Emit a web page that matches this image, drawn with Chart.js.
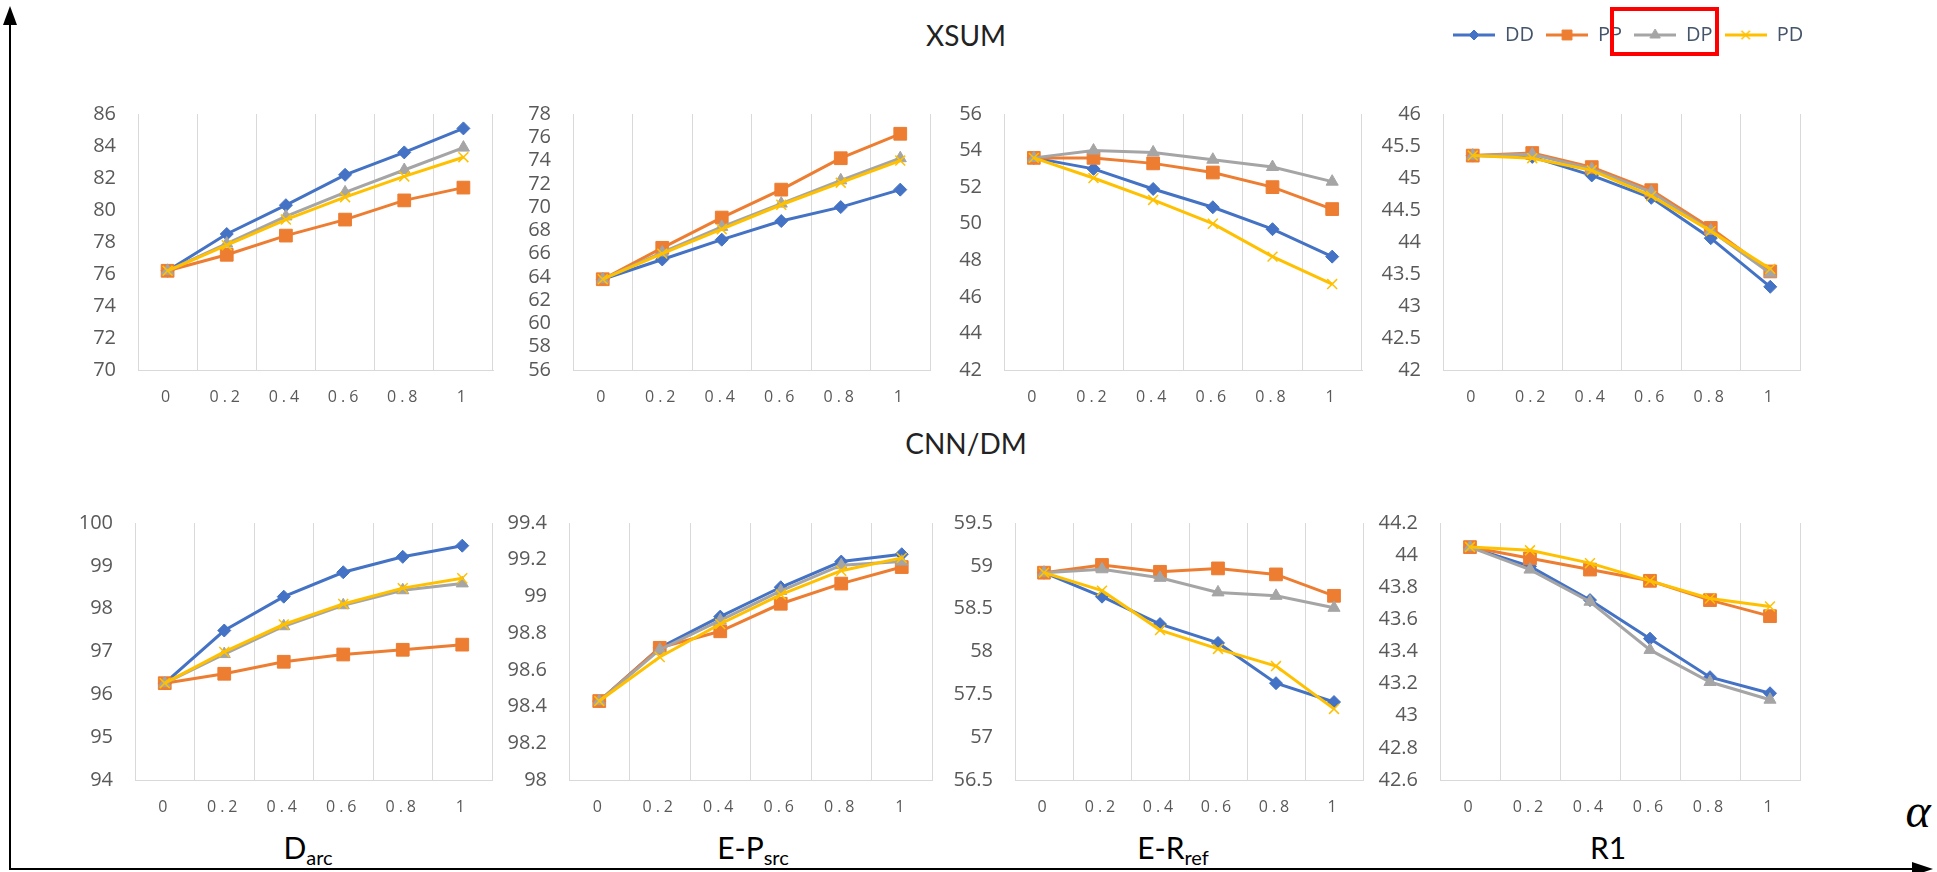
<!DOCTYPE html>
<html lang="en">
<head>
<meta charset="UTF-8">
<title>XSUM / CNN/DM - alpha sweep</title>
<script src="https://cdn.jsdelivr.net/npm/chart.js"></script>
<style>
  body { margin: 0; background: #fff; width: 1937px; height: 872px; position: relative; overflow: hidden; }
  canvas { position: absolute; }
  .title { position: absolute; font-family: Lato, 'Open Sans', sans-serif; font-size: 28px; color: #222; transform: translate(-50%, -50%); white-space: nowrap; }
  .metric { position: absolute; font-family: Lato, 'Open Sans', sans-serif; font-size: 30px; color: #000; transform: translate(-50%, -50%); white-space: nowrap; }
  .metric sub { font-size: 20px; vertical-align: -6px; line-height: 0; }
  .alpha { position: absolute; font-family: 'Liberation Serif', serif; font-style: italic; font-size: 48px; color: #000; transform: translate(-50%, -50%); }
  .mark { position: absolute; left: 1610px; top: 7px; width: 109px; height: 49px; border: 4px solid #ff0000; box-sizing: border-box; }
  svg { position: absolute; left: 0; top: 0; }
</style>
</head>
<body>

<div class="title" style="left:966px; top:35px;">XSUM</div>
<div class="title" style="left:966px; top:443px;">CNN/DM</div>
<div class="metric" style="left:308px; top:847px;">D<sub>arc</sub></div>
<div class="metric" style="left:753px; top:847px;">E-P<sub>src</sub></div>
<div class="metric" style="left:1173px; top:847px;">E-R<sub>ref</sub></div>
<div class="metric" style="left:1608px; top:847px;">R1</div>
<div class="alpha" style="left:1918px; top:810px;">α</div>

<svg width="1937" height="872">
  <line x1="10" y1="22" x2="10" y2="870" stroke="#000" stroke-width="2"/>
  <polygon points="10,6 3,25 17,25" fill="#000"/>
  <line x1="9" y1="869" x2="1918" y2="869" stroke="#000" stroke-width="2"/>
  <polygon points="1933,869 1912,862 1912,876" fill="#000"/>
</svg>

<script>
// alpha values on the x axis
const alphas = ['0', '0.2', '0.4', '0.6', '0.8', '1'];
const seriesNames = ['DD', 'PP', 'DP', 'PD'];

// XSUM
const xsumDarcDD = [76.2, 78.5, 80.3, 82.2, 83.6, 85.1];
const xsumDarcPP = [76.2, 77.2, 78.4, 79.4, 80.6, 81.4];
const xsumDarcDP = [76.2, 77.9, 79.6, 81.1, 82.5, 83.9];
const xsumDarcPD = [76.2, 77.8, 79.4, 80.8, 82.1, 83.3];

const xsumEpDD = [63.8, 65.5, 67.2, 68.8, 70.0, 71.5];
const xsumEpPP = [63.8, 66.5, 69.1, 71.5, 74.2, 76.3];
const xsumEpDP = [63.8, 66.1, 68.3, 70.3, 72.3, 74.2];
const xsumEpPD = [63.8, 66.0, 68.1, 70.2, 72.1, 74.0];

const xsumErDD = [53.6, 53.0, 51.9, 50.9, 49.7, 48.2];
const xsumErPP = [53.6, 53.6, 53.3, 52.8, 52.0, 50.8];
const xsumErDP = [53.6, 54.0, 53.9, 53.5, 53.1, 52.3];
const xsumErPD = [53.6, 52.5, 51.3, 50.0, 48.2, 46.7];

const xsumR1DD = [45.35, 45.33, 45.04, 44.69, 44.06, 43.30];
const xsumR1PP = [45.35, 45.39, 45.17, 44.81, 44.22, 43.54];
const xsumR1DP = [45.35, 45.37, 45.14, 44.78, 44.18, 43.51];
const xsumR1PD = [45.35, 45.31, 45.12, 44.72, 44.17, 43.58];

// CNN/DM
const cnnDarcDD = [96.26, 97.49, 98.28, 98.85, 99.21, 99.47];
const cnnDarcPP = [96.26, 96.48, 96.76, 96.93, 97.04, 97.16];
const cnnDarcDP = [96.26, 96.94, 97.59, 98.08, 98.43, 98.59];
const cnnDarcPD = [96.26, 96.99, 97.63, 98.11, 98.48, 98.71];

const cnnEpDD = [98.43, 98.72, 98.89, 99.05, 99.19, 99.23];
const cnnEpPP = [98.43, 98.72, 98.81, 98.96, 99.07, 99.16];
const cnnEpDP = [98.43, 98.71, 98.87, 99.03, 99.17, 99.19];
const cnnEpPD = [98.43, 98.67, 98.85, 99.01, 99.14, 99.21];

const cnnErDD = [58.92, 58.64, 58.32, 58.10, 57.63, 57.41];
const cnnErPP = [58.92, 59.01, 58.93, 58.97, 58.90, 58.65];
const cnnErDP = [58.92, 58.96, 58.86, 58.69, 58.65, 58.51];
const cnnErPD = [58.92, 58.71, 58.25, 58.03, 57.83, 57.33];

const cnnR1DD = [44.05, 43.93, 43.72, 43.48, 43.24, 43.14];
const cnnR1PP = [44.05, 43.98, 43.91, 43.84, 43.72, 43.62];
const cnnR1DP = [44.05, 43.91, 43.71, 43.41, 43.21, 43.10];
const cnnR1PD = [44.05, 44.03, 43.95, 43.84, 43.73, 43.68];

// y axis ranges, panels in reading order
const yMins  = [70, 56, 42, 42,   94, 98,  56.5, 42.6];
const yMaxs  = [86, 78, 56, 46,  100, 99.4, 59.5, 44.2];
const ySteps = [2, 2, 2, 0.5,      1, 0.2,  0.5,  0.2];

const panelData = [
  [xsumDarcDD, xsumDarcPP, xsumDarcDP, xsumDarcPD],
  [xsumEpDD, xsumEpPP, xsumEpDP, xsumEpPD],
  [xsumErDD, xsumErPP, xsumErDP, xsumErPD],
  [xsumR1DD, xsumR1PP, xsumR1DP, xsumR1PD],
  [cnnDarcDD, cnnDarcPP, cnnDarcDP, cnnDarcPD],
  [cnnEpDD, cnnEpPP, cnnEpDP, cnnEpPD],
  [cnnErDD, cnnErPP, cnnErDP, cnnErPD],
  [cnnR1DD, cnnR1PP, cnnR1DP, cnnR1PD]
];

// plot areas [left, top, right, bottom]
const boxes = [
  [138, 97, 493, 370], [573, 97, 930, 370], [1004, 97, 1362, 370], [1443, 97, 1800, 370],
  [135, 506, 492, 780], [569, 506, 932, 780], [1015, 506, 1363, 780], [1440, 506, 1800, 780]
];

const colors = ['#4472C4', '#ED7D31', '#A5A5A5', '#FFC000'];
const styles = ['rectRot', 'rect', 'triangle', 'crossRot'];
const radii = [6.5, 9, 7, 7];
const FONT = "'Open Sans', sans-serif";
const Y_W = 90, PAD_T = 17, PAD_R = 12, X_H = 50;

// spaced-out x labels like the original spreadsheet chart
const spacedLabels = {
  id: 'spacedLabels',
  beforeDraw(chart) {
    const sx = chart.scales.x;
    if (!sx || sx._spaced) return;
    const orig = sx.drawLabels;
    sx.drawLabels = function (area) {
      this.ctx.save();
      this.ctx.letterSpacing = '4px';
      orig.call(this, area);
      this.ctx.restore();
    };
    sx._spaced = true;
  }
};

function makePanel(i) {
  const [l, t, r, b] = boxes[i];
  const cv = document.createElement('canvas');
  cv.width = Y_W + (r - l) + PAD_R;
  cv.height = PAD_T + (b - t) + X_H;
  cv.style.left = (l - Y_W) + 'px';
  cv.style.top = (t - PAD_T) + 'px';
  document.body.appendChild(cv);

  const datasets = panelData[i].map((vals, k) => ({
    label: seriesNames[k],
    data: vals,
    borderColor: colors[k],
    backgroundColor: colors[k],
    pointBackgroundColor: colors[k],
    pointBorderColor: colors[k],
    borderWidth: 3,
    pointStyle: styles[k],
    pointRadius: radii[k],
    pointBorderWidth: k === 3 ? 1.5 : 1,
    tension: 0,
    order: 3 - k
  }));

  new Chart(cv, {
    type: 'line',
    data: { labels: alphas, datasets },
    options: {
      responsive: false,
      animation: false,
      layout: { padding: { top: PAD_T, right: PAD_R, left: 0, bottom: 0 } },
      plugins: { legend: { display: false }, tooltip: { enabled: false } },
      scales: {
        x: {
          offset: true,
          grid: { offset: true, color: '#D9D9D9', lineWidth: 1, drawTicks: false },
          border: { color: '#D9D9D9', width: 1 },
          ticks: { color: '#595959', font: { family: FONT, size: 16 }, padding: 18, maxRotation: 0, autoSkip: false },
          afterFit: s => { s.height = X_H; }
        },
        y: {
          min: yMins[i],
          max: yMaxs[i],
          ticks: {
            stepSize: ySteps[i],
            autoSkip: false,
            color: '#595959',
            font: { family: FONT, size: 20 },
            padding: 22,
            callback: v => String(Number(v.toFixed(2)))
          },
          grid: { display: false, drawTicks: false },
          border: { display: false },
          afterFit: s => { s.width = Y_W; }
        }
      }
    },
    plugins: [spacedLabels]
  });
}

for (let i = 0; i < 8; i++) makePanel(i);

// legend glyphs: line with the series marker in the middle
function legendIcon(k) {
  const c = document.createElement('canvas');
  c.width = 42; c.height = 18;
  const g = c.getContext('2d');
  g.strokeStyle = colors[k];
  g.fillStyle = colors[k];
  g.lineWidth = 3;
  g.beginPath(); g.moveTo(0, 9); g.lineTo(42, 9); g.stroke();
  g.lineWidth = k === 3 ? 1.5 : 1;
  Chart.helpers.drawPoint(g, { pointStyle: styles[k], radius: [5, 7, 6, 6][k], borderWidth: g.lineWidth, rotation: 0 }, 21, 9);
  return c;
}

const lg = document.createElement('canvas');
lg.width = 380; lg.height = 100;
lg.style.left = '1441px';
lg.style.top = '13px';
document.body.appendChild(lg);

new Chart(lg, {
  type: 'line',
  data: { labels: [], datasets: seriesNames.map((n, k) => ({ label: n, data: [], borderColor: colors[k] })) },
  options: {
    responsive: false,
    animation: false,
    scales: { x: { display: false }, y: { display: false } },
    plugins: {
      tooltip: { enabled: false },
      legend: {
        position: 'top',
        align: 'start',
        labels: {
          usePointStyle: true,
          pointStyleWidth: 42,
          padding: 12,
          font: { family: FONT, size: 20 },
          color: '#44546A',
          generateLabels: () => seriesNames.map((n, k) => ({
            text: n,
            pointStyle: legendIcon(k),
            fillStyle: colors[k],
            strokeStyle: colors[k],
            lineWidth: 0,
            fontColor: '#44546A',
            hidden: false,
            datasetIndex: k
          }))
        }
      }
    }
  }
});
</script>
<div class="mark"></div>
</body>
</html>
